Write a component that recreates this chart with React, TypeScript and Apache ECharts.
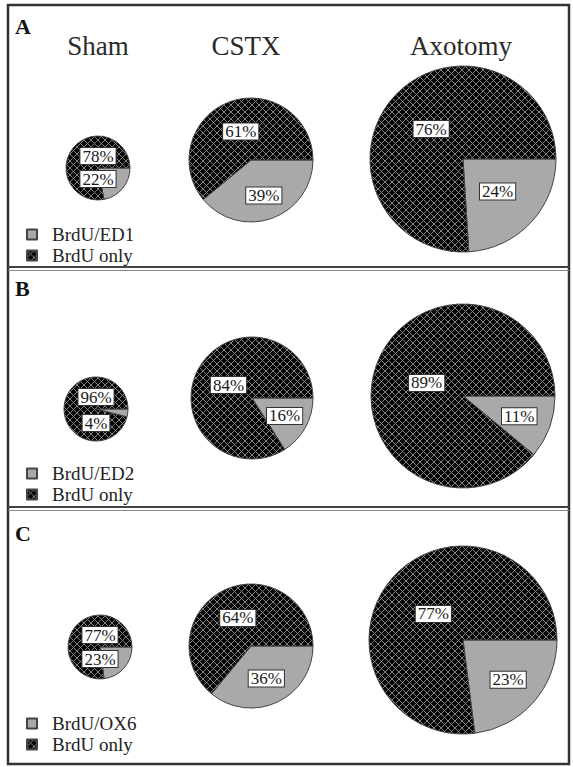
import React, { useEffect, useRef } from 'react';
import * as echarts from 'echarts';

// ---- data ----
const groups = ['Sham', 'CSTX', 'Axotomy'];
const panelLetters = ['A', 'B', 'C'];
const markerNames = ['BrdU/ED1', 'BrdU/ED2', 'BrdU/OX6'];
const otherName = 'BrdU only';
const doubleA = [22, 39, 24];
const onlyA = [78, 61, 76];
const doubleB = [4, 16, 11];
const onlyB = [96, 84, 89];
const doubleC = [23, 36, 23];
const onlyC = [77, 64, 77];
const doubles = [doubleA, doubleB, doubleC];
const onlys = [onlyA, onlyB, onlyC];

// ---- layout (pixels) ----
const SERIF = 'Liberation Serif';
const GRAY = '#a9a9a9';
const PANELS = [
  { centers: [[98, 168], [251, 160], [463, 159]], radii: [32, 62, 93], frac: [[0, 0], [0.61, 0.49], [0.51, 0.47]], letterY: 26, legendTop: 220, shamDy: [11, -12] },
  { centers: [[96, 409], [252, 398], [463, 396]], radii: [32, 61, 92], frac: [[0, 0], [0.61, 0.44], [0.65, 0.42]], letterY: 288, legendTop: 459, shamDy: [14, -12] },
  { centers: [[100, 647], [251, 646], [463, 640]], radii: [32, 62, 94], frac: [[0, 0], [0.58, 0.5], [0.64, 0.42]], letterY: 533, legendTop: 709, shamDy: [12, -12] },
];
const TITLE_X = [98, 246, 461];

function makePattern() {
  const s = 7;
  const c = document.createElement('canvas');
  c.width = s;
  c.height = s;
  const ctx = c.getContext('2d');
  if (ctx) {
    ctx.fillStyle = '#050505';
    ctx.fillRect(0, 0, s, s);
    ctx.strokeStyle = '#8e8e8e';
    ctx.lineWidth = 0.9;
    ctx.beginPath();
    ctx.moveTo(-1, -1);
    ctx.lineTo(s + 1, s + 1);
    ctx.moveTo(s + 1, -1);
    ctx.lineTo(-1, s + 1);
    ctx.stroke();
  }
  return { image: c, repeat: 'repeat', imageWidth: s, imageHeight: s };
}

export default function App() {
  const ref = useRef<HTMLDivElement>(null);
  useEffect(() => {
    if (!ref.current) return;
    const chart = echarts.init(ref.current, null, { renderer: 'svg' });
    const pattern = makePattern();
    const series: any[] = [];
    PANELS.forEach((p, pi) => {
      groups.forEach((g, gi) => {
        const values = [doubles[pi][gi], onlys[pi][gi]];
        const [cx, cy] = p.centers[gi];
        const r = p.radii[gi];
        const total = values[0] + values[1];
        series.push({
          type: 'pie',
          name: panelLetters[pi] + ' ' + g,
          center: [cx, cy],
          radius: r,
          startAngle: 0,
          clockwise: true,
          silent: true,
          emphasis: { disabled: true },
          avoidLabelOverlap: false,
          itemStyle: { borderColor: '#444', borderWidth: 1 },
          label: {
            show: true,
            position: 'inside',
            formatter: '{c}%',
            fontFamily: SERIF,
            fontSize: 17,
            lineHeight: 15,
            color: '#1a1a1a',
            backgroundColor: '#ffffff',
            borderColor: '#333',
            borderWidth: 1,
            padding: [1, 2, 0, 2],
          },
          labelLine: { show: false },
          labelLayout: (params: any) => {
            const idx = params.dataIndex;
            if (gi === 0) {
              return { x: cx, y: cy + p.shamDy[idx], align: 'center', verticalAlign: 'middle' };
            }
            let cum = 0;
            for (let i = 0; i < idx; i++) cum += values[i];
            const mid = -((cum + values[idx] / 2) / total) * Math.PI * 2;
            const d = r * p.frac[gi][idx];
            return { x: cx + Math.cos(mid) * d, y: cy - Math.sin(mid) * d, align: 'center', verticalAlign: 'middle' };
          },
          data: [
            { name: markerNames[pi], value: values[0], itemStyle: { color: GRAY } },
            { name: otherName, value: values[1], itemStyle: { color: pattern } },
          ],
        });
      });
    });

    const graphics: any[] = [
      { type: 'rect', shape: { x: 8, y: 5, width: 561, height: 759 }, style: { fill: 'none', stroke: '#333', lineWidth: 2.5 }, silent: true },
      { type: 'line', shape: { x1: 8, y1: 267, x2: 569, y2: 267 }, style: { stroke: '#444', lineWidth: 2 }, silent: true },
      { type: 'line', shape: { x1: 8, y1: 270.5, x2: 569, y2: 270.5 }, style: { stroke: '#888', lineWidth: 1 }, silent: true },
      { type: 'line', shape: { x1: 8, y1: 507, x2: 569, y2: 507 }, style: { stroke: '#444', lineWidth: 2 }, silent: true },
      { type: 'line', shape: { x1: 8, y1: 510.5, x2: 569, y2: 510.5 }, style: { stroke: '#888', lineWidth: 1 }, silent: true },
    ];
    PANELS.forEach((p, pi) => {
      graphics.push({
        type: 'text', left: 15, top: p.letterY - 11, silent: true,
        style: { text: panelLetters[pi], font: 'bold 22px ' + SERIF, fill: '#111' },
      });
    });
    groups.forEach((g, gi) => {
      graphics.push({
        type: 'text', x: TITLE_X[gi], y: 46, silent: true,
        style: { text: g, font: '27px ' + SERIF, fill: '#2a2a2a', textAlign: 'center', textVerticalAlign: 'middle' },
      });
    });

    chart.setOption({
      animation: false,
      backgroundColor: '#ffffff',
      legend: PANELS.map((p, pi) => ({
        orient: 'vertical',
        left: 21,
        top: p.legendTop,
        itemWidth: 10,
        itemHeight: 10,
        itemGap: 2,
        icon: 'rect',
        selectedMode: false,
        data: [markerNames[pi], otherName],
        textStyle: { fontFamily: SERIF, fontSize: 19, color: '#222', padding: [0, 0, 0, 10] },
      })),
      series,
      graphic: graphics,
    });
    return () => chart.dispose();
  }, []);
  return <div ref={ref} style={{ position: 'absolute', left: 0, top: 0, width: 573, height: 767 }} />;
}
